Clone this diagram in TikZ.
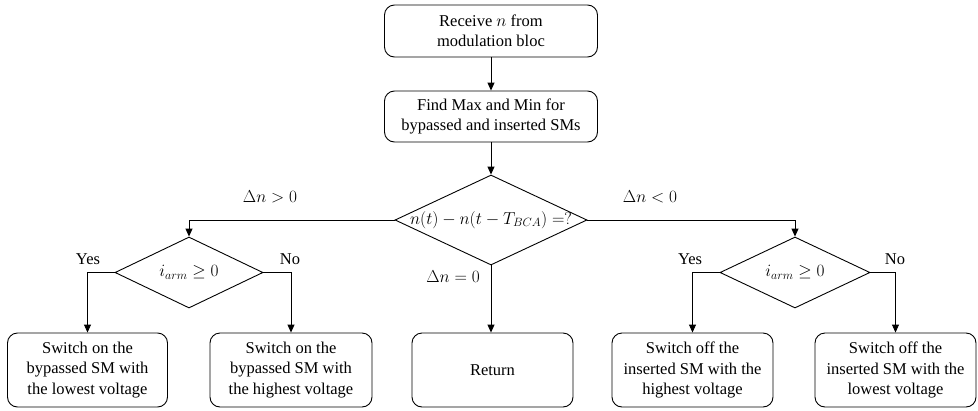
\documentclass[tikz,border=0pt]{standalone}
\usepackage{fontspec}
\setmainfont{Liberation Serif}
\usetikzlibrary{arrows.meta,shapes.geometric}
\begin{document}
\begin{tikzpicture}[x=1pt,y=-1pt,
  every node/.style={font=\fontsize{16.5}{20.5}\selectfont},
  proc/.style={draw, line width=0.9pt, rounded corners=10pt, align=center, inner sep=0pt},
  cond/.style={draw, line width=0.9pt, diamond, inner sep=0pt},
  flow/.style={draw, line width=0.9pt, -{Triangle[length=8pt,width=7pt]}},
  lbl/.style={inner sep=1pt}
]
\useasboundingbox (0,0) rectangle (978,410);

% process boxes
\node[proc, minimum width=213pt, minimum height=52pt] (recv) at (491,31) {Receive $n$ from\\modulation bloc};
\node[proc, minimum width=213pt, minimum height=51pt] (find) at (491,116.5) {Find Max and Min for\\bypassed and inserted SMs};

% main decision
\node[cond, minimum width=192pt, minimum height=90pt] (main) at (491,220) {};
\node (maintxt) at (main.center) {$n(t)-n(t-T_{BCA})=?$};

% arm current decisions
\node[cond, minimum width=148pt, minimum height=71pt] (dl) at (189,272.5) {};
\node (dltxt) at (dl.center) {$i_{arm}\geq 0$};
\node[cond, minimum width=150pt, minimum height=71pt] (dr) at (795,272.5) {};
\node (drtxt) at (dr.center) {$i_{arm}\geq 0$};

% result boxes
\node[proc, minimum width=160pt, minimum height=74pt] (b1) at (87.5,370) {Switch on the\\bypassed SM with\\the lowest voltage};
\node[proc, minimum width=162pt, minimum height=74pt] (b2) at (291,370) {Switch on the\\bypassed SM with\\the highest voltage};
\node[proc, minimum width=161pt, minimum height=74pt] (ret) at (492.5,370) {Return};
\node[proc, minimum width=161pt, minimum height=74pt] (b3) at (692.5,370) {Switch off the\\inserted SM with the\\highest voltage};
\node[proc, minimum width=161pt, minimum height=74pt] (b4) at (895.5,370) {Switch off the\\inserted SM with the\\lowest voltage};

% connectors
\draw[flow] (recv) -- (find);
\draw[flow] (find) -- (main);
\draw[flow] (main.west) -| (dl.north);
\draw[flow] (main.east) -| (dr.north);
\draw[flow] (main.south) -- (main.south |- ret.north);
\draw[flow] (dl.west) -| (b1.north);
\draw[flow] (dl.east) -| (b2.north);
\draw[flow] (dr.west) -| (b3.north);
\draw[flow] (dr.east) -| (b4.north);

% branch labels
\node[lbl] (gt) at (270,197) {$\Delta n>0$};
\node[lbl] (lt) at (650,197) {$\Delta n<0$};
\node[lbl] (eq) at (453,277) {$\Delta n=0$};
\node[lbl] (y1) at (88,259) {Yes};
\node[lbl] (n1) at (290,259) {No};
\node[lbl] (y2) at (690,259) {Yes};
\node[lbl] (n2) at (895,259) {No};
\end{tikzpicture}
\end{document}
